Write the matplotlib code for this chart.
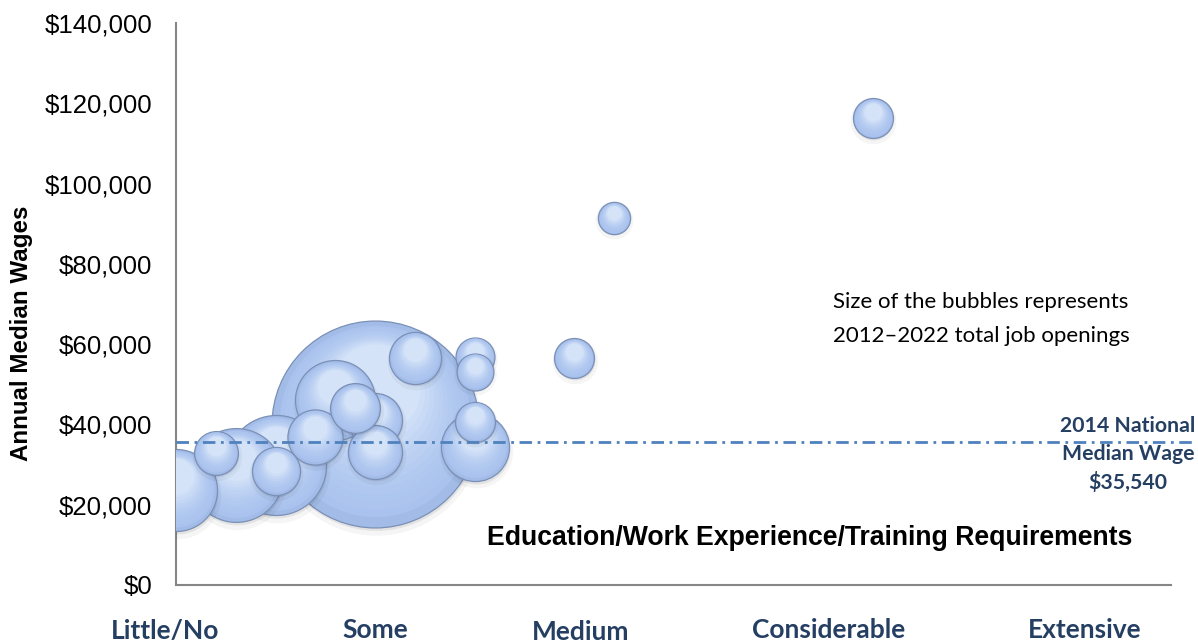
import matplotlib
matplotlib.use('Agg')
import matplotlib.pyplot as plt
import matplotlib.colors as mcolors
from matplotlib.transforms import offset_copy, blended_transform_factory
import numpy as np

plt.rcParams['font.family'] = ['Liberation Sans', 'DejaVu Sans']

# requirement level (0 = little/no ... 5 = extensive), median wage, job openings
levels = [0, 0.2, 0.3, 0.5, 0.5, 0.7, 0.8, 0.9, 1.0, 1.0, 1.0, 1.2,
          1.5, 1.5, 1.5, 1.5, 2.0, 2.2, 3.5]
wages = [23700, 32900, 27400, 29900, 28400, 36900, 46100, 44000, 40200,
         41100, 33100, 56500, 56800, 53100, 34400, 40600, 56500, 91400, 116300]
openings = [16800, 4800, 22000, 25000, 5800, 7600, 16000, 6200, 107000,
            7300, 7300, 6800, 3800, 3400, 11600, 4000, 4000, 2600, 4000]

categories = ['Little/No', 'Some', 'Medium', 'Considerable', 'Extensive']
yticks = [0, 20000, 40000, 60000, 80000, 100000, 120000, 140000]
national_median = 35540

DARK = '#253f63'
SIZE_SCALE = 2.0736 / 10   # points^2 per opening


def mix(c1, c2, t):
    a = np.array(mcolors.to_rgb(c1))
    b = np.array(mcolors.to_rgb(c2))
    return tuple(a + (b - a) * t)


def bubble(ax, fig, x, y, s, z):
    r = np.sqrt(s) / 2.0
    # soft drop shadow, kept thin even for big bubbles
    off = min(0.08 * r, 2.5)
    for f, dy, a in [(1.0 + 2.0 / r, -1.5 * off, 0.04), (1.0, -off, 0.07)]:
        tr = offset_copy(ax.transData, fig=fig, x=0.4 * off, y=dy, units='points')
        ax.scatter([x], [y], s=s * f * f, color='black', alpha=a, lw=0,
                   transform=tr, zorder=z)
    ax.scatter([x], [y], s=s, color='#a2bce7', edgecolors='#7b90b6',
               linewidths=0.9, zorder=z + 0.1)
    n = 12
    for i in range(1, n + 1):
        t = i / n
        f = max(1 - 0.55 * t, 0.4)
        dy = r * (1 - f) * 0.6
        col = mix('#aac3ee', '#d4e3f8', t ** 1.8)
        tr = offset_copy(ax.transData, fig=fig, x=0, y=dy, units='points')
        ax.scatter([x], [y], s=s * (f * 0.97) ** 2, color=col, lw=0,
                   transform=tr, zorder=z + 0.1 + i * 0.005)


def main():
    fig = plt.figure(figsize=(11.98, 6.44), dpi=100)
    ax = fig.add_axes([176 / 1198, 59 / 644, 995 / 1198, 562 / 644])
    ax.set_xlim(0, 5)
    ax.set_ylim(0, 140000)

    order = np.argsort(openings)[::-1]
    for k, i in enumerate(order):
        bubble(ax, fig, levels[i], wages[i], openings[i] * SIZE_SCALE, 2 + k)

    ax.axhline(national_median, xmin=0, xmax=1.024, color='#4f81bd', lw=2,
               dashes=[4.5, 2, 1, 2], clip_on=False, zorder=100)

    ax.set_yticks(yticks)
    ax.set_yticklabels(['${:,}'.format(v) for v in yticks])
    ax.set_xticks([])
    ax.tick_params(axis='y', length=0, pad=17, labelsize=18.6)
    for sp in ['top', 'right']:
        ax.spines[sp].set_visible(False)
    for sp in ['left', 'bottom']:
        ax.spines[sp].set_color('#868686')
        ax.spines[sp].set_linewidth(1.5)

    ax.text(-0.1548, 0.448, 'Annual Median Wages', rotation=90, ha='center',
            va='center', transform=ax.transAxes, fontsize=17.4, fontweight='bold')

    trb = blended_transform_factory(ax.transData, ax.transAxes)
    cat_x = [-0.055, 1.0, 2.035, 3.28, 4.565]
    cat_y = [-0.081, -0.080, -0.0845, -0.080, -0.080]
    for name, cx, cy in zip(categories, cat_x, cat_y):
        ax.text(cx, cy, name, transform=trb, ha='center', va='center',
                fontsize=19, fontweight='bold', color=DARK, family='Lato')

    ax.text(0.637, 0.0836, 'Education/Work Experience/Training Requirements',
            transform=ax.transAxes, ha='center', va='center', fontsize=19.2,
            fontweight='bold', zorder=200)

    ax.text(0.6603, 0.473, 'Size of the bubbles represents\n2012\u20132022 total job openings',
            transform=ax.transAxes, ha='left', va='center', fontsize=16,
            family='Lato', linespacing=1.85, zorder=200)

    ax.text(0.9567, 0.232, '2014 National\nMedian Wage\n$35,540',
            transform=ax.transAxes, ha='center', va='center', fontsize=15.3,
            fontweight='bold', color=DARK, family='Lato', linespacing=1.5,
            zorder=200)

    plt.savefig('out.png', dpi=100)


if __name__ == '__main__':
    main()
